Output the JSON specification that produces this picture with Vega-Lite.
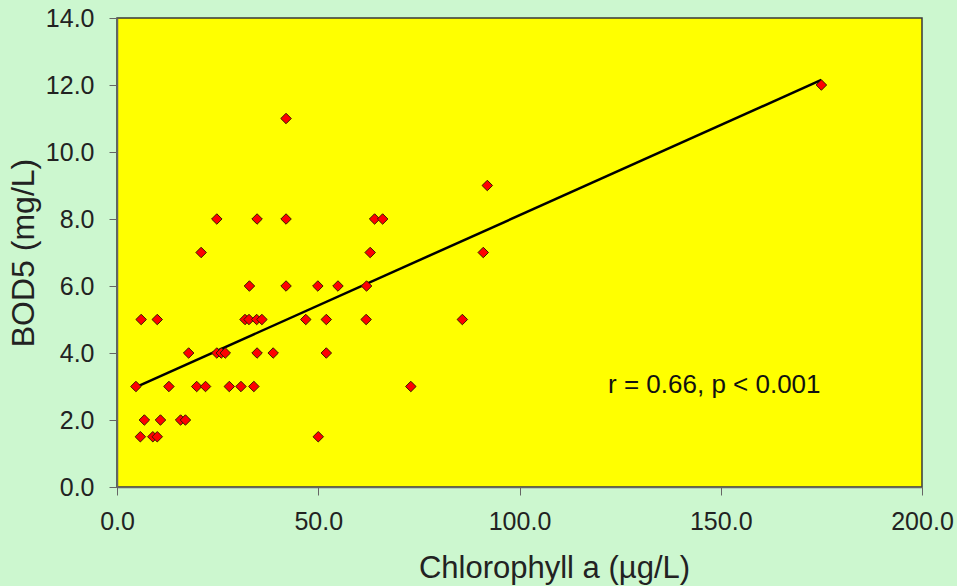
{
  "$schema": "https://vega.github.io/schema/vega-lite/v6.json",
  "autosize": {"type": "none"},
  "width": 805,
  "height": 469,
  "padding": {"left": 117, "top": 18, "right": 35, "bottom": 99},
  "background": "#ccf7cf",
  "config": {
    "view": {"fill": "#ffff00", "stroke": "#3a3a3a", "strokeWidth": 1.5},
    "font": "Liberation Sans",
    "axis": {
      "grid": false,
      "labelFlush": false,
      "labelOverlap": false,
      "domainColor": "#666666",
      "domainWidth": 1.5,
      "tickColor": "#666666",
      "tickSize": 8,
      "labelFont": "Liberation Sans",
      "labelFontSize": 25,
      "labelColor": "#222222",
      "titleFont": "Liberation Sans",
      "titleFontSize": 30,
      "titleFontWeight": "normal",
      "titleColor": "#222222"
    }
  },
  "datasets": {
    "points": [
      {"chl": 4.7, "bod": 3},
      {"chl": 5.8, "bod": 1.5},
      {"chl": 6, "bod": 5},
      {"chl": 6.8, "bod": 2},
      {"chl": 8.9, "bod": 1.5},
      {"chl": 10, "bod": 1.5},
      {"chl": 10, "bod": 5},
      {"chl": 10.8, "bod": 2},
      {"chl": 12.9, "bod": 3},
      {"chl": 15.8, "bod": 2},
      {"chl": 17, "bod": 2},
      {"chl": 17.8, "bod": 4},
      {"chl": 19.8, "bod": 3},
      {"chl": 20.9, "bod": 7},
      {"chl": 22, "bod": 3},
      {"chl": 24.8, "bod": 8},
      {"chl": 24.8, "bod": 4},
      {"chl": 25.9, "bod": 4},
      {"chl": 26.9, "bod": 4},
      {"chl": 27.9, "bod": 3},
      {"chl": 30.8, "bod": 3},
      {"chl": 31.8, "bod": 5},
      {"chl": 32.8, "bod": 5},
      {"chl": 32.9, "bod": 6},
      {"chl": 34, "bod": 3},
      {"chl": 34.7, "bod": 5},
      {"chl": 34.8, "bod": 4},
      {"chl": 34.8, "bod": 8},
      {"chl": 36, "bod": 5},
      {"chl": 38.8, "bod": 4},
      {"chl": 42, "bod": 11},
      {"chl": 42, "bod": 8},
      {"chl": 42, "bod": 6},
      {"chl": 46.9, "bod": 5},
      {"chl": 49.9, "bod": 6},
      {"chl": 50, "bod": 1.5},
      {"chl": 52, "bod": 5},
      {"chl": 52, "bod": 4},
      {"chl": 54.9, "bod": 6},
      {"chl": 62, "bod": 6},
      {"chl": 61.9, "bod": 5},
      {"chl": 62.9, "bod": 7},
      {"chl": 64, "bod": 8},
      {"chl": 66, "bod": 8},
      {"chl": 73, "bod": 3},
      {"chl": 85.8, "bod": 5},
      {"chl": 91, "bod": 7},
      {"chl": 92, "bod": 9},
      {"chl": 175, "bod": 12}
    ],
    "fit": [
      {"chl": 4.7, "bod": 2.98},
      {"chl": 175, "bod": 12.15}
    ],
    "note": [
      {"chl": 122, "bod": 2.8, "label": "r = 0.66, p < 0.001"}
    ]
  },
  "layer": [
    {
      "data": {"name": "fit"},
      "mark": {"type": "line", "color": "#000000", "strokeWidth": 2.5},
      "encoding": {
        "x": {
          "field": "chl", "type": "quantitative",
          "scale": {"domain": [0, 200], "nice": false, "zero": true},
          "axis": {
            "values": [0, 50, 100, 150, 200],
            "format": ".1f",
            "labelPadding": 14,
            "title": "Chlorophyll a (µg/L)",
            "titleFontSize": 31,
            "titleX": 437,
            "titleY": 90,
            "titleBaseline": "alphabetic",
            "titleAlign": "center"
          }
        },
        "y": {
          "field": "bod", "type": "quantitative",
          "scale": {"domain": [0, 14], "nice": false},
          "axis": {
            "values": [0, 2, 4, 6, 8, 10, 12, 14],
            "format": ".1f",
            "labelPadding": 15,
            "title": "BOD5 (mg/L)",
            "titleFontSize": 32,
            "titleX": -84,
            "titleY": 234.5,
            "titleBaseline": "alphabetic",
            "titleAlign": "center",
            "titleAngle": -90
          }
        }
      }
    },
    {
      "data": {"name": "points"},
      "mark": {"type": "point", "shape": "diamond", "filled": true, "size": 110, "fill": "#ff0000", "stroke": "#3a1a00", "strokeWidth": 1, "opacity": 1},
      "encoding": {
        "x": {"field": "chl", "type": "quantitative"},
        "y": {"field": "bod", "type": "quantitative"}
      }
    },
    {
      "data": {"name": "note"},
      "mark": {"type": "text", "align": "left", "baseline": "alphabetic", "fontSize": 26, "font": "Liberation Sans", "color": "#111111"},
      "encoding": {
        "x": {"field": "chl", "type": "quantitative"},
        "y": {"field": "bod", "type": "quantitative"},
        "text": {"field": "label"}
      }
    }
  ]
}
